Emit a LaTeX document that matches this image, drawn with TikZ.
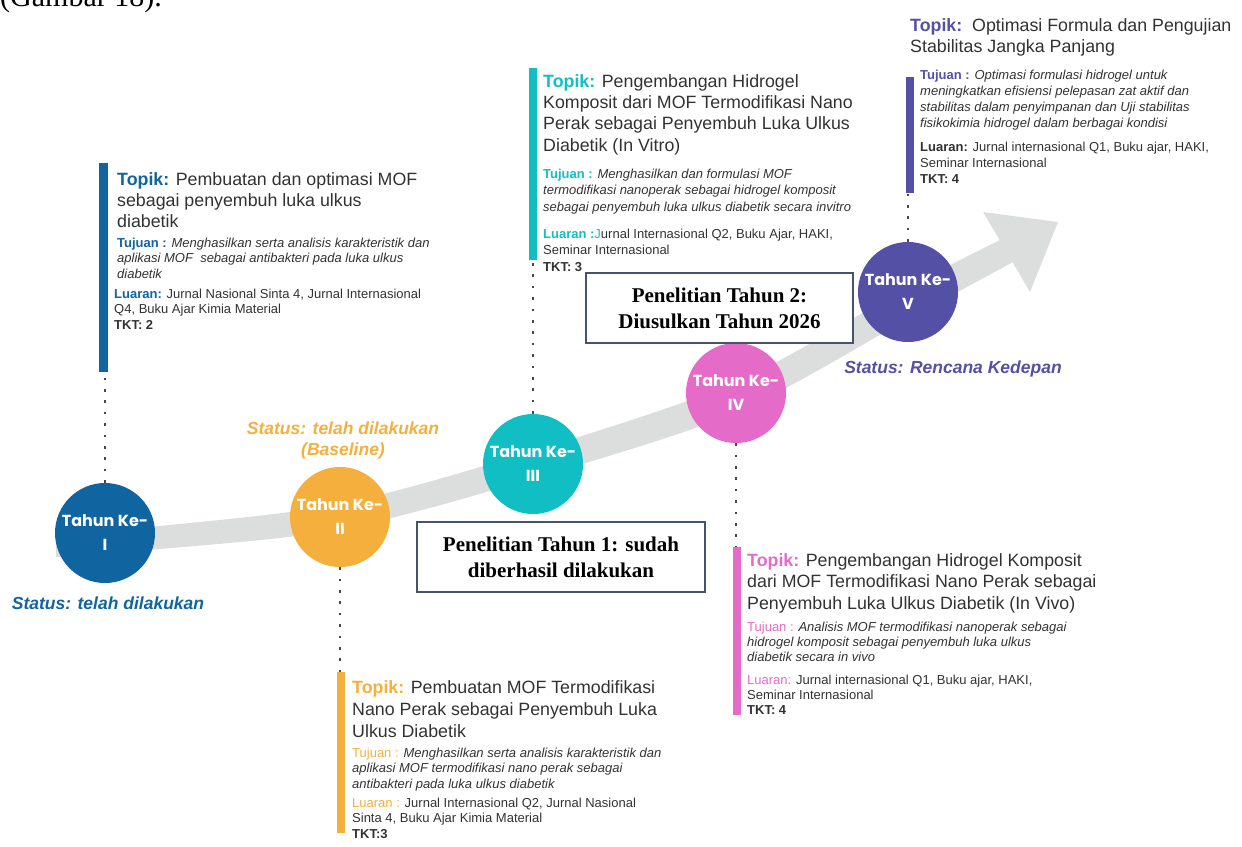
\documentclass[tikz,border=0pt]{standalone}
\usepackage{fontspec}
\setmainfont{Liberation Sans}
\newfontfamily\circfont{Poppins}
\newfontfamily\serifbox{Liberation Serif}

\definecolor{cI}{RGB}{16,100,160}
\definecolor{cII}{RGB}{245,175,60}
\definecolor{cIII}{RGB}{16,190,196}
\definecolor{cIV}{RGB}{228,108,200}
\definecolor{cV}{RGB}{84,80,166}
\definecolor{bandgray}{RGB}{220,221,221}
\definecolor{ink}{RGB}{50,50,50}
\definecolor{framecol}{RGB}{68,84,106}

\newcommand{\lab}[2]{\textbf{\color{#1}#2}}
\newcommand{\labr}[2]{{\color{#1}#2}}

\begin{document}
\begin{tikzpicture}[x=1pt,y=-1pt,
  topic/.style={anchor=north west, inner sep=0pt, align=left, text=ink,
    font=\fontsize{17.8}{#1}\selectfont, yshift=0.7*#1pt},
  topic/.default=21.3,
  detail/.style={anchor=north west, inner sep=0pt, align=left, text=ink,
    font=\fontsize{13}{#1}\selectfont, yshift=0.7*#1pt},
  detail/.default=15.5,
  yearball/.style={circle, fill=#1, minimum size=100pt, inner sep=0pt,
    text=white, align=center, font=\circfont\bfseries\fontsize{16}{24}\selectfont},
  bar/.style={rectangle, fill=#1, inner sep=0pt, minimum width=8pt},
  dotline/.style={draw=ink!90, line width=2.6pt, dash pattern=on 2.6pt off 8.8pt},
  status/.style={align=center, inner sep=0pt, text=#1,
    font=\bfseries\itshape\fontsize{17.5}{21}\selectfont},
  notebox/.style={draw=framecol, line width=2pt, fill=white, inner sep=0pt,
    align=center, font=\serifbox\bfseries\fontsize{21}{26}\selectfont}
]
\useasboundingbox (0,0) rectangle (1242,846);
\clip (0,0) rectangle (1242,846);

% caption line running in from the page above
\node[anchor=base west, inner sep=0pt, font=\serifbox\fontsize{30}{34}\selectfont]
  (caption) at (0,6) {(Gambar 18).};

% rising timeline band with arrow head
\fill[bandgray]
  plot[smooth] coordinates {(56,535) (155,526.5) (340,504) (533,451) (736,382) (908,287) (1000,240)}
  -- (1013,262)
  -- plot[smooth] coordinates {(1013,262) (908,319) (736,412.5) (533,478.5) (340,529.5) (155,549.5) (56,557)}
  -- cycle;
\fill[bandgray] (983,212) -- (1058,222) -- (1030,292) -- cycle;

% year markers
\node[yearball=cI]   (c1) at (105,533) {Tahun Ke-\\I};
\node[yearball=cII]  (c2) at (340,517) {Tahun Ke-\\II};
\node[yearball=cIII] (c3) at (533,464) {Tahun Ke-\\III};
\node[yearball=cIV]  (c4) at (736,393) {Tahun Ke-\\IV};
\node[yearball=cV]   (c5) at (908,292) {Tahun Ke-\\V};

% colour bars beside each description
\node[bar=cI,  minimum width=9pt, minimum height=209pt] (bar1) at (103.5,267.5) {};
\node[bar=cII,  minimum height=161pt] (bar2) at (341,752.5) {};
\node[bar=cIII, minimum height=192pt] (bar3) at (532.5,164) {};
\node[bar=cIV,  minimum height=168pt] (bar4) at (737,631) {};
\node[bar=cV,   minimum height=116pt] (bar5) at (910,135) {};

% dotted leaders from markers to descriptions
\draw[dotline] (c1.north) -- (c1.north |- bar1.south);
\draw[dotline] (c2.south) -- (c2.south |- bar2.north);
\draw[dotline] (c3.north) -- (c3.north |- bar3.south);
\draw[dotline] (c4.south) -- (c4.south |- bar4.north);
\draw[dotline] (c5.north) -- (c5.north |- bar5.south);

% year I
\node[topic] (t1) at (117,185) {\strut\lab{cI}{Topik:} Pembuatan dan optimasi MOF\\sebagai penyembuh luka ulkus\\diabetik};
\node[detail] (g1) at (117,247) {\strut\lab{cI}{Tujuan :} \textit{Menghasilkan serta analisis karakteristik dan}\\\textit{aplikasi MOF\ \ sebagai antibakteri pada luka ulkus}\\\textit{diabetik}};
\node[detail] (o1) at (114,298) {\strut\lab{cI}{Luaran:} Jurnal Nasional Sinta 4, Jurnal Internasional\\Q4, Buku Ajar Kimia Material\\\textbf{TKT: 2}};

% year II
\node[topic=22] (t2) at (352,693) {\strut\lab{cII}{Topik:} Pembuatan MOF Termodifikasi\\Nano Perak sebagai Penyembuh Luka\\Ulkus Diabetik};
\node[detail] (g2) at (352,757) {\strut\labr{cII}{Tujuan :} \textit{Menghasilkan serta analisis karakteristik dan}\\\textit{aplikasi MOF termodifikasi nano perak sebagai}\\\textit{antibakteri pada luka ulkus diabetik}};
\node[detail] (o2) at (352,807) {\strut\labr{cII}{Luaran :} Jurnal Internasional Q2, Jurnal Nasional\\Sinta 4, Buku Ajar Kimia Material\\\textbf{TKT:3}};

% year III
\node[topic] (t3) at (543,87) {\strut\lab{cIII}{Topik:} Pengembangan Hidrogel\\Komposit dari MOF Termodifikasi Nano\\Perak sebagai Penyembuh Luka Ulkus\\Diabetik (In Vitro)};
\node[detail=16.5] (g3) at (543,178) {\strut\lab{cIII}{Tujuan :} \textit{Menghasilkan dan formulasi MOF}\\\textit{termodifikasi nanoperak sebagai hidrogel komposit}\\\textit{sebagai penyembuh luka ulkus diabetik secara invitro}};
\node[detail=16.5] (o3) at (543,238) {\strut\lab{cIII}{Luaran :}\labr{cIII}{J}urnal Internasional Q2, Buku Ajar, HAKI,\\Seminar Internasional\\\textbf{TKT: 3}};

% year IV
\node[topic=21.5] (t4) at (747,566) {\strut\lab{cIV}{Topik:} Pengembangan Hidrogel Komposit\\dari MOF Termodifikasi Nano Perak sebagai\\Penyembuh Luka Ulkus Diabetik (In Vivo)};
\node[detail=15] (g4) at (747,631) {\strut\labr{cIV}{Tujuan :} \textit{Analisis MOF termodifikasi nanoperak sebagai}\\\textit{hidrogel komposit sebagai penyembuh luka ulkus}\\\textit{diabetik secara in vivo}};
\node[detail=15] (o4) at (747,684) {\strut\labr{cIV}{Luaran:} Jurnal internasional Q1, Buku ajar, HAKI,\\Seminar Internasional\\\textbf{TKT: 4}};

% year V
\node[topic=21] (t5) at (910,31) {\strut\lab{cV}{Topik:}\ \ Optimasi Formula dan Pengujian\\Stabilitas Jangka Panjang};
\node[detail=16] (g5) at (920,79) {\strut\lab{cV}{Tujuan :} \textit{Optimasi formulasi hidrogel untuk}\\\textit{meningkatkan efisiensi pelepasan zat aktif dan}\\\textit{stabilitas dalam penyimpanan dan Uji stabilitas}\\\textit{fisikokimia hidrogel dalam berbagai kondisi}};
\node[detail=16] (o5) at (920,151) {\strut\textbf{Luaran:} Jurnal internasional Q1, Buku ajar, HAKI,\\Seminar Internasional\\\textbf{TKT: 4}};

% status labels
\node[status=cI]  (s1) at (108,603) {Status: telah dilakukan};
\node[status=cII] (s2) at (343,440.5) {Status: telah dilakukan\\(Baseline)};
\node[status=cV]  (s5) at (953,369) {Status: Rencana Kedepan};

% research phase boxes
\node[notebox, minimum width=288pt, minimum height=70pt] (box1) at (561,557)
  {Penelitian Tahun 1: sudah\\diberhasil dilakukan};
\node[notebox, minimum width=267pt, minimum height=70pt] (box2) at (719.5,308)
  {Penelitian Tahun 2:\\Diusulkan Tahun 2026};
\end{tikzpicture}
\end{document}
